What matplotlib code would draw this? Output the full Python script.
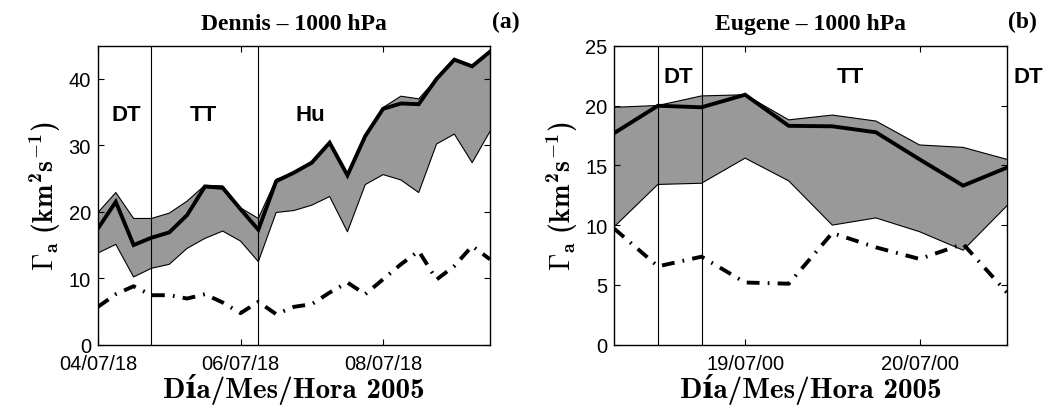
import numpy as np
import pandas as pd
import matplotlib
matplotlib.use("Agg")
import matplotlib.pyplot as plt
import matplotlib.dates as mdates

plt.rcParams['mathtext.fontset'] = 'custom'
plt.rcParams['mathtext.rm'] = 'cmb10'
plt.rcParams['mathtext.bf'] = 'cmb10'
plt.rcParams['mathtext.it'] = 'cmb10'
plt.rcParams['mathtext.fallback'] = 'cm'

# ---------------- data: Dennis (a) ----------------
dennis_times = pd.date_range("2005-07-04 18:00", periods=23, freq="6h")
dennis_mean = [17.5, 21.5, 15.0, 16.1, 16.9, 19.5, 23.8, 23.6, 20.4, 17.3,
               24.6, 25.9, 27.4, 30.4, 25.5, 31.4, 35.5, 36.3, 36.2, 40.0,
               42.9, 41.9, 44.1]
dennis_upper = [19.9, 22.9, 19.0, 19.0, 19.8, 21.6, 24.0, 23.9, 20.6, 19.0,
                24.9, 25.9, 27.4, 30.4, 25.5, 31.4, 35.7, 37.4, 37.0, 40.0,
                42.9, 41.9, 44.1]
dennis_lower = [13.8, 15.1, 10.2, 11.5, 12.1, 14.5, 16.0, 17.1, 15.6, 12.5,
                19.9, 20.2, 21.0, 22.3, 17.0, 24.1, 25.6, 24.8, 22.9, 30.2,
                31.7, 27.4, 32.1]
dennis_dashdot = [5.7, 7.6, 8.8, 7.45, 7.45, 6.95, 7.6, 6.35, 4.75, 6.45,
                  4.6, 5.7, 6.1, 7.85, 9.35, 7.6, 9.85, 12.1, 14.1, 9.8,
                  11.85, 14.85, 12.85]
dennis_phases = ["DT", "TT", "Hu"]
dennis_bounds = ["2005-07-05 12:00", "2005-07-07 00:00"]
dennis_ticks = ["2005-07-04 18:00", "2005-07-06 18:00", "2005-07-08 18:00"]

# ---------------- data: Eugene (b) ----------------
eugene_times = pd.date_range("2005-07-18 06:00", periods=10, freq="6h")
eugene_mean = [17.7, 19.98, 19.85, 20.9, 18.3, 18.26, 17.76, 15.5, 13.3, 14.8]
eugene_upper = [19.85, 20.0, 20.8, 20.9, 18.8, 19.2, 18.7, 16.7, 16.5, 15.5]
eugene_lower = [9.87, 13.4, 13.5, 15.6, 13.7, 10.0, 10.6, 9.45, 7.9, 11.6]
eugene_dashdot = [9.7, 6.55, 7.36, 5.2, 5.1, 9.34, 8.14, 7.17, 8.42, 4.38]
eugene_phases = ["DT", "TT", "DT"]
eugene_bounds = ["2005-07-18 12:00", "2005-07-18 18:00"]
eugene_ticks = ["2005-07-19 00:00", "2005-07-20 00:00"]

fig = plt.figure(figsize=(10.49, 4.10), dpi=100)
axL = fig.add_axes([0.0934, 0.1568, 0.3737, 0.7293])
axR = fig.add_axes([0.5856, 0.1568, 0.3741, 0.7293])

GREY = '#999999'
DASH = (0, (3.3, 2.1, 0.45, 2.1))
tickfont = dict(family='Liberation Sans', size=14.5)
labfont = dict(family='Liberation Sans', size=16, weight='bold')
titfont = dict(family='Liberation Serif', size=17, weight='bold')
xlabfont = dict(family=['cmb10', 'DejaVu Serif'], size=21, weight='bold')


def panel(ax, t, mean, up, lo, dd, bounds, ylim, yticks, xticks, title, tag):
    ax.fill_between(t, lo, up, facecolor=GREY, edgecolor='none', zorder=1)
    ax.plot(t, up, color='k', lw=0.8, zorder=2)
    ax.plot(t, lo, color='k', lw=0.8, zorder=2)
    ax.plot(t, mean, color='k', lw=2.8, zorder=3, solid_joinstyle='miter')
    ax.plot(t, dd, color='k', lw=2.8, linestyle=DASH, zorder=3)
    for i, b in enumerate(bounds):
        ax.axvline(pd.Timestamp(b), color='k', lw=0.8, zorder=4)
    ax.set_xlim(t[0], t[-1])
    ax.set_ylim(*ylim)
    ax.set_yticks(yticks)
    ax.set_xticks([pd.Timestamp(x) for x in xticks])
    ax.xaxis.set_major_formatter(mdates.DateFormatter('%d/%m/%H'))
    ax.tick_params(direction='in', length=4, width=0.8, top=True, right=True,
                   pad=5)
    ax.tick_params(axis='x', pad=7)
    for lab in ax.get_xticklabels() + ax.get_yticklabels():
        lab.set_fontfamily(tickfont['family'])
        lab.set_fontsize(tickfont['size'])
    for s in ax.spines.values():
        s.set_linewidth(1.0)
    ax.set_xlabel('Día/Mes/Hora 2005', fontdict=xlabfont, labelpad=0)
    ax.set_ylabel(r'$\Gamma_{a}\ (km^{2}s^{-1})$', fontsize=20, labelpad=4)
    ax.set_title(title, fontdict=titfont, pad=12)
    ax.text(1.04, 1.0 + 12 / 299 + 0.005, tag, transform=ax.transAxes,
            ha='center', va='bottom', **titfont)


panel(axL, dennis_times, dennis_mean, dennis_upper, dennis_lower, dennis_dashdot,
      dennis_bounds, (0, 45), [0, 10, 20, 30, 40], dennis_ticks,
      'Dennis – 1000 hPa', '(a)')
panel(axR, eugene_times, eugene_mean, eugene_upper, eugene_lower, eugene_dashdot,
      eugene_bounds, (0, 25), [0, 5, 10, 15, 20, 25], eugene_ticks,
      'Eugene – 1000 hPa', '(b)')

# phase labels
dl_pos = ["2005-07-05 03:30", "2005-07-06 05:30", "2005-07-07 17:30"]
for name, p in zip(dennis_phases, dl_pos):
    axL.text(pd.Timestamp(p), 34.6, name, ha='center', va='center', **labfont)
el_pos = ["2005-07-18 14:45", "2005-07-19 14:30", "2005-07-20 15:00"]
for name, p in zip(eugene_phases, el_pos):
    axR.text(pd.Timestamp(p), 22.4, name, ha='center', va='center',
             clip_on=False, **labfont)

fig.savefig('out.png', dpi=100)
